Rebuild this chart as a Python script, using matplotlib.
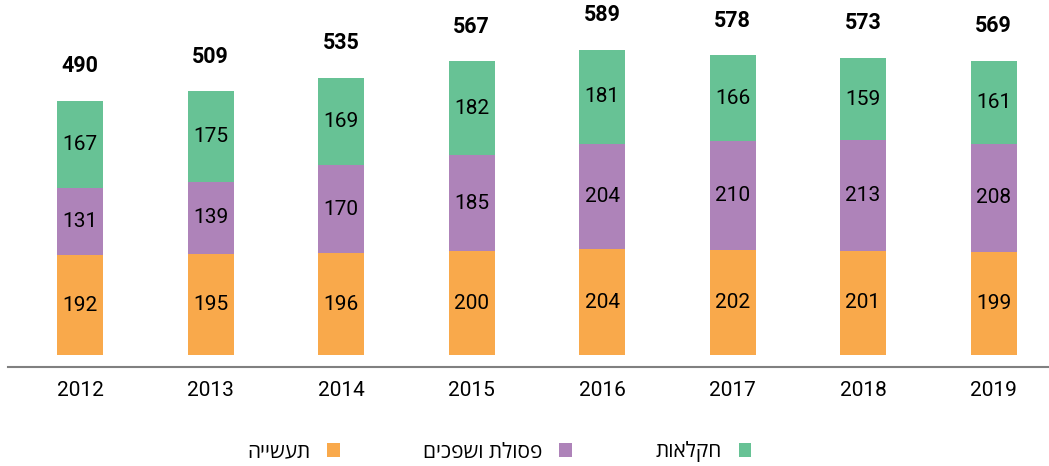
import matplotlib.pyplot as plt
import numpy as np

years = ["2012", "2013", "2014", "2015", "2016", "2017", "2018", "2019"]
industry = [192, 195, 196, 200, 204, 202, 201, 199]
waste = [131, 139, 170, 185, 204, 210, 213, 208]
agriculture = [167, 175, 169, 182, 181, 166, 159, 161]
totals = [490, 509, 535, 567, 589, 578, 573, 569]

series_names = ["תעשייה", "פסולת ושפכים", "חקלאות"]
colors = ["#F9A94B", "#AE83B9", "#67C295"]

plt.rcParams['font.family'] = ['Roboto', 'DejaVu Sans']

fig = plt.figure(figsize=(10.49, 4.66), dpi=100)
ax = fig.add_axes([8 / 1049, 1 - 367 / 466, 1041 / 1049, 367 / 466])

x = np.arange(len(years))
bottom = np.zeros(len(years))
bars = []
for vals, col in zip([industry, waste, agriculture], colors):
    b = ax.bar(x, vals, width=0.352, bottom=bottom, color=col)
    ax.bar_label(b, labels=[str(v) for v in vals], label_type='center',
                 fontsize=15, color='black')
    bars.append(b)
    bottom += np.array(vals)

# totals above bars
for xi, top, tot in zip(x, bottom, totals):
    ax.annotate(str(tot), (xi, top), xytext=(0, 17), textcoords='offset points',
                ha='center', va='bottom', fontsize=15.5, fontweight='bold')

ax.set_xlim(-0.552, 7.425)
ax.set_ylim(-23.3, 685)
ax.set_xticks(x)
ax.set_xticklabels(years, fontsize=15)
ax.tick_params(axis='x', length=0, pad=10)
ax.set_yticks([])
for s in ['top', 'right', 'left']:
    ax.spines[s].set_visible(False)
ax.spines['bottom'].set_color('#808080')
ax.spines['bottom'].set_linewidth(1.5)

# RTL legend: reverse the hebrew strings for display
leg = fig.legend(bars, [n[::-1] for n in series_names], loc='center',
                 bbox_to_anchor=(0.476, 1 - 452 / 466), ncol=3, frameon=False,
                 markerfirst=False, handlelength=0.62, handleheight=0.62,
                 handletextpad=0.8, columnspacing=4.0,
                 prop={'family': ['Open Sans', 'DejaVu Sans'], 'size': 15})

fig.savefig("out.png", dpi=100)
